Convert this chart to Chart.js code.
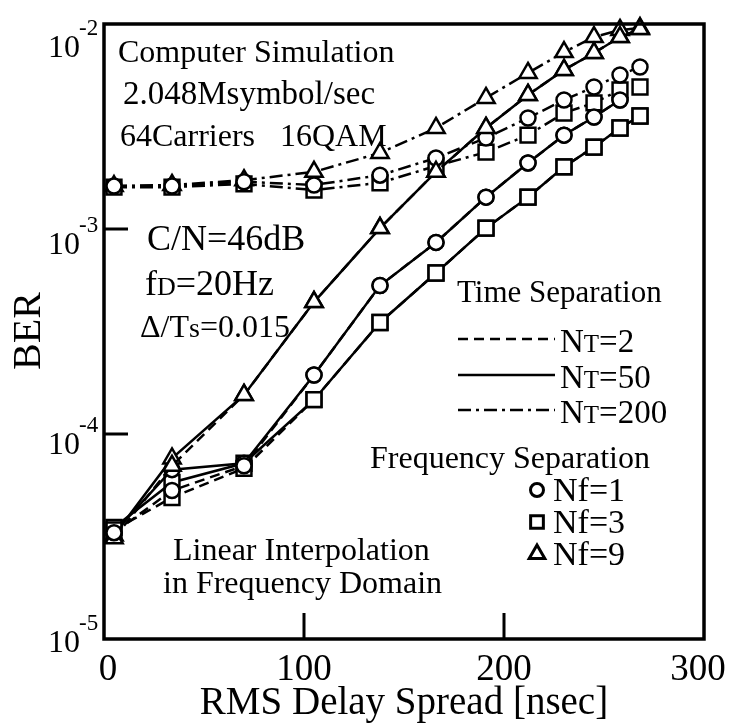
<!DOCTYPE html>
<html>
<head>
<meta charset="utf-8">
<script src="https://cdn.jsdelivr.net/npm/chart.js@4/dist/chart.umd.min.js"></script>
<style>
  html, body { margin: 0; padding: 0; background: #fff; }
  canvas { display: block; }
</style>
</head>
<body>
<canvas id="ber" width="729" height="723"></canvas>
<script>
// RMS delay spread [nsec] at which BER was simulated
const delaySpread = [5, 34, 70, 105, 138, 166, 191, 212, 230, 245, 258, 268];

// Time separation NT=2 (dashed)
const berNt2Nf1 = [3.3e-5, 5.3e-5, 7.0e-5, 1.94e-4, 5.3e-4, 8.6e-4, 1.43e-3, 2.1e-3, 2.87e-3, 3.52e-3, 4.26e-3, null];
const berNt2Nf3 = [3.4e-5, 4.9e-5, 6.8e-5, 1.47e-4, 3.5e-4, 6.1e-4, 1.01e-3, 1.43e-3, 2.01e-3, 2.51e-3, 3.11e-3, 3.56e-3];
const berNt2Nf9 = [3.1e-5, 7.0e-5, 1.55e-4, 4.4e-4, 1.01e-3, 1.9e-3, 3.11e-3, 4.51e-3, 5.97e-3, 7.22e-3, 8.64e-3, 9.45e-3];

// Time separation NT=50 (solid)
const berNt50Nf1 = [3.3e-5, 6.7e-5, 7.2e-5, 1.94e-4, 5.3e-4, 8.6e-4, 1.43e-3, 2.1e-3, 2.87e-3, 3.52e-3, 4.26e-3, null];
const berNt50Nf3 = [3.5e-5, 5.8e-5, 7.2e-5, 1.47e-4, 3.5e-4, 6.1e-4, 1.01e-3, 1.43e-3, 2.01e-3, 2.51e-3, 3.11e-3, 3.56e-3];
const berNt50Nf9 = [3.2e-5, 7.6e-5, 1.55e-4, 4.4e-4, 1.01e-3, 1.9e-3, 3.11e-3, 4.51e-3, 5.97e-3, 7.22e-3, 8.64e-3, 9.45e-3];

// Time separation NT=200 (dash-dot)
const berNt200Nf1 = [1.62e-3, 1.62e-3, 1.70e-3, 1.64e-3, 1.83e-3, 2.22e-3, 2.78e-3, 3.48e-3, 4.26e-3, 4.93e-3, 5.64e-3, 6.17e-3];
const berNt200Nf3 = [1.60e-3, 1.60e-3, 1.66e-3, 1.55e-3, 1.68e-3, 2.03e-3, 2.37e-3, 2.87e-3, 3.68e-3, 4.12e-3, 4.77e-3, 4.93e-3];
const berNt200Nf9 = [1.62e-3, 1.64e-3, 1.73e-3, 1.90e-3, 2.35e-3, 3.11e-3, 4.36e-3, 5.77e-3, 7.30e-3, 8.64e-3, 9.35e-3, 9.56e-3];

// Axis ticks
const xTickValues = [0, 100, 200, 300];
const xInnerTicks = [100, 200];
const yTickExponents = [-2, -3, -4, -5];
const yInnerTicks = [1e-3, 1e-4];

const SERIF = "'Liberation Serif', 'DejaVu Serif', serif";
const DASHED = [10, 6];
const DASH_DOT = [13, 5, 3, 5];

const markerStyle = {
  circle:   { pointStyle: 'circle',   pointRadius: 7.5 },
  rect:     { pointStyle: 'rect',     pointRadius: 10.5 },
  triangle: { pointStyle: 'triangle', pointRadius: 10 }
};

function series(values, dash, marker) {
  return Object.assign({
    data: delaySpread.map((x, i) => ({ x: x, y: values[i] })).filter(p => p.y != null),
    borderColor: '#000',
    borderWidth: 2.5,
    borderDash: dash,
    pointBackgroundColor: '#fff',
    pointBorderColor: '#000',
    pointBorderWidth: 2.5,
    showLine: true,
    tension: 0,
    clip: false
  }, markerStyle[marker]);
}

// Draws text made of runs of differing size (small caps style subscripts)
function drawRuns(ctx, runs, x, y) {
  let cx = x;
  for (const r of runs) {
    ctx.font = r.size + 'px ' + SERIF;
    ctx.fillText(r.t, cx, y + (r.dy || 0));
    cx += ctx.measureText(r.t).width;
  }
}

const decorations = {
  id: 'decorations',
  afterDatasetsDraw(chart) {
    const ctx = chart.ctx;
    const area = chart.chartArea;
    const xs = chart.scales.x, ys = chart.scales.y;
    ctx.save();
    ctx.fillStyle = '#000';
    ctx.strokeStyle = '#000';
    ctx.setLineDash([]);

    // frame
    ctx.lineWidth = 3.5;
    ctx.strokeRect(area.left, area.top, area.right - area.left, area.bottom - area.top);

    // inner ticks
    ctx.lineWidth = 3;
    ctx.beginPath();
    for (const v of xInnerTicks) {
      const px = xs.getPixelForValue(v);
      ctx.moveTo(px, area.bottom);
      ctx.lineTo(px, area.bottom - 26);
    }
    for (const v of yInnerTicks) {
      const py = ys.getPixelForValue(v);
      ctx.moveTo(area.left, py);
      ctx.lineTo(area.left + 24, py);
    }
    ctx.stroke();

    // x tick labels (end labels nudged inward)
    ctx.textAlign = 'center';
    ctx.textBaseline = 'alphabetic';
    ctx.font = '37px ' + SERIF;
    const xLabelNudge = { 0: 4, 300: -6 };
    for (const v of xTickValues) {
      ctx.fillText(String(v), xs.getPixelForValue(v) + (xLabelNudge[v] || 0), area.bottom + 41);
    }

    // y tick labels: 10 with superscript exponent
    const labelShift = { '-2': 22, '-3': 14, '-4': 9, '-5': 2 };
    for (const e of yTickExponents) {
      const py = ys.getPixelForValue(Math.pow(10, e)) + labelShift[e];
      ctx.textAlign = 'right';
      ctx.font = '32px ' + SERIF;
      ctx.fillText('10', 80, py + 11);
      ctx.textAlign = 'left';
      ctx.font = '23px ' + SERIF;
      ctx.fillText(String(e), 79, py - 11);
    }

    // axis titles
    ctx.textAlign = 'center';
    ctx.font = '39px ' + SERIF;
    ctx.fillText('RMS Delay Spread [nsec]', 404, 714);
    ctx.save();
    ctx.translate(40, 331);
    ctx.rotate(-Math.PI / 2);
    ctx.font = '40px ' + SERIF;
    ctx.fillText('BER', 0, 0);
    ctx.restore();

    // simulation conditions
    ctx.textAlign = 'left';
    ctx.font = '32px ' + SERIF;
    ctx.fillText('Computer Simulation', 118, 62);
    ctx.font = '33px ' + SERIF;
    ctx.fillText('2.048Msymbol/sec', 123, 104);
    ctx.font = '32px ' + SERIF;
    ctx.fillText('64Carriers', 120, 146);
    ctx.fillText('16QAM', 280, 146);
    ctx.font = '36px ' + SERIF;
    ctx.fillText('C/N=46dB', 147, 250);
    drawRuns(ctx, [{ t: 'f', size: 36 }, { t: 'D', size: 26 }, { t: '=20Hz', size: 36 }], 145, 295);
    drawRuns(ctx, [{ t: '\u0394/T', size: 32 }, { t: 's', size: 28 }, { t: '=0.015', size: 32 }], 140, 337);

    ctx.font = '32px ' + SERIF;
    ctx.fillText('Linear Interpolation', 173, 560);
    ctx.fillText('in Frequency Domain', 163, 593);

    // time separation legend
    ctx.font = '31px ' + SERIF;
    ctx.fillText('Time Separation', 457, 302);
    const lineKeys = [
      { dash: DASHED, label: '2', y: 339 },
      { dash: [], label: '50', y: 375 },
      { dash: DASH_DOT, label: '200', y: 410 }
    ];
    ctx.lineWidth = 2.5;
    for (const k of lineKeys) {
      ctx.setLineDash(k.dash);
      ctx.beginPath();
      ctx.moveTo(458, k.y);
      ctx.lineTo(555, k.y);
      ctx.stroke();
      ctx.setLineDash([]);
      drawRuns(ctx, [{ t: 'N', size: 33 }, { t: 'T', size: 25 }, { t: '=' + k.label, size: 33 }], 560, k.y + 13);
    }

    // frequency separation legend
    ctx.font = '32px ' + SERIF;
    ctx.fillText('Frequency Separation', 370, 468);
    const markerKeys = [
      { style: 'circle', r: 6.5, label: '1', y: 490 },
      { style: 'rect', r: 9, label: '3', y: 522 },
      { style: 'triangle', r: 9, label: '9', y: 554 }
    ];
    ctx.lineWidth = 3;
    for (const m of markerKeys) {
      ctx.fillStyle = '#fff';
      Chart.helpers.drawPoint(ctx, { pointStyle: m.style, radius: m.r, rotation: 0, borderWidth: 3 }, 537, m.y);
      ctx.fillStyle = '#000';
      ctx.font = '34px ' + SERIF;
      ctx.fillText('Nf=' + m.label, 553, m.y + 11);
    }
    ctx.restore();
  }
};

new Chart(document.getElementById('ber'), {
  type: 'scatter',
  data: {
    datasets: [
      series(berNt2Nf1, DASHED, 'circle'),
      series(berNt2Nf3, DASHED, 'rect'),
      series(berNt2Nf9, DASHED, 'triangle'),
      series(berNt200Nf1, DASH_DOT, 'circle'),
      series(berNt200Nf3, DASH_DOT, 'rect'),
      series(berNt200Nf9, DASH_DOT, 'triangle'),
      series(berNt50Nf1, [], 'circle'),
      series(berNt50Nf3, [], 'rect'),
      series(berNt50Nf9, [], 'triangle')
    ]
  },
  options: {
    responsive: false,
    animation: false,
    devicePixelRatio: 1,
    layout: { padding: { left: 104, top: 24, right: 25, bottom: 84 } },
    plugins: { legend: { display: false }, tooltip: { enabled: false } },
    scales: {
      x: { type: 'linear', min: 0, max: 300, display: false },
      y: { type: 'logarithmic', min: 1e-5, max: 1e-2, display: false }
    }
  },
  plugins: [decorations]
});
</script>
</body>
</html>
